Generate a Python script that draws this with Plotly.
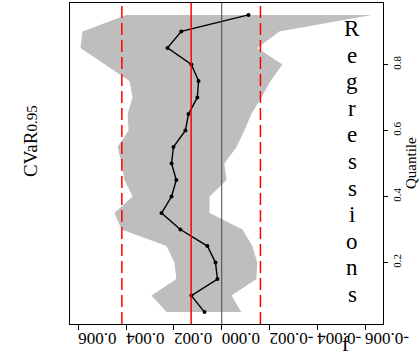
import plotly.graph_objects as go

# Data
taus = [0.05, 0.10, 0.15, 0.20, 0.25, 0.30, 0.35, 0.40, 0.45, 0.50,
        0.55, 0.60, 0.65, 0.70, 0.75, 0.80, 0.85, 0.90, 0.95]
coef = [0.00072, 0.00127, 0.00018, 0.00026, 0.00060, 0.00173, 0.00252, 0.00210, 0.00190, 0.00210,
        0.00202, 0.00152, 0.00139, 0.00102, 0.00097, 0.00127, 0.00227, 0.00169, -0.00112]
upper = [0.00231, 0.00294, 0.00190, 0.00198, 0.00231, 0.00419, 0.00449, 0.00373, 0.00407, 0.00419,
         0.00436, 0.00390, 0.00394, 0.00373, 0.00386, 0.00491, 0.00591, 0.00583, 0.00399]
lower = [-0.00082, -0.00041, -0.00145, -0.00149, -0.00128, -0.00087, 0.00051, 0.00051, -0.00020, -0.00011,
         -0.00062, -0.00095, -0.00124, -0.00166, -0.00204, -0.00254, -0.00149, -0.00241, -0.00627]
ols_est = 0.00128
ols_lo = -0.00162
ols_hi = 0.00418
xticks = [-0.006, -0.004, -0.002, 0.000, 0.002, 0.004, 0.006]
xticklabels = ["-0.006", "-0.004", "-0.002", "0.000", "0.002", "0.004", "0.006"]
yticks = [0.2, 0.4, 0.6, 0.8]
yticklabels = ["0.2", "0.4", "0.6", "0.8"]
title_left = "CVaR<span style='font-size:15px'>0.95</span>"
title_letters = list("Regressions")
axis_label = "Quantile"

W, H = 419, 360
L, R, T, B = 70, 36, 3, 36
pw, ph = W - L - R, H - T - B

def px(x):
    return (x - L) / pw

def py(y):
    return (H - B - y) / ph

SERIF = "Liberation Serif, Times New Roman, serif"

fig = go.Figure()
fig.add_trace(go.Scatter(
    x=upper + lower[::-1], y=taus + taus[::-1],
    fill="toself", fillcolor="#BEBEBE", line=dict(width=0),
    mode="lines", hoverinfo="skip", showlegend=False))
fig.add_trace(go.Scatter(
    x=coef, y=taus, mode="lines+markers",
    line=dict(color="black", width=1.4),
    marker=dict(color="black", size=4), showlegend=False))

shapes = [
    dict(type="line", xref="x", yref="paper", x0=0, x1=0, y0=0, y1=1,
         line=dict(color="#444444", width=1)),
    dict(type="line", xref="x", yref="paper", x0=ols_est, x1=ols_est, y0=0, y1=1,
         line=dict(color="red", width=1.5)),
    dict(type="line", xref="x", yref="paper", x0=ols_lo, x1=ols_lo, y0=0, y1=1,
         line=dict(color="red", width=1.5, dash="12px,5px")),
    dict(type="line", xref="x", yref="paper", x0=ols_hi, x1=ols_hi, y0=0, y1=1,
         line=dict(color="red", width=1.5, dash="12px,5px")),
]

annotations = []
for k, ch in enumerate(title_letters):
    annotations.append(dict(
        text=ch, xref="paper", yref="paper", x=px(352), y=py(28.5 + 26.6 * k),
        xanchor="center", yanchor="middle", showarrow=False,
        font=dict(family=SERIF, size=23, color="black")))
annotations.append(dict(
    text="f", xref="paper", yref="paper", x=px(345), y=py(344),
    xanchor="center", yanchor="middle", showarrow=False,
    font=dict(family=SERIF, size=21, color="black")))
annotations.append(dict(
    text=title_left, xref="paper", yref="paper", x=px(30), y=py(141),
    xanchor="center", yanchor="middle", showarrow=False, textangle=-90,
    font=dict(family=SERIF, size=19, color="black")))
annotations.append(dict(
    text=axis_label, xref="paper", yref="paper", x=px(411), y=py(163),
    xanchor="center", yanchor="middle", showarrow=False, textangle=-90,
    font=dict(family=SERIF, size=15, color="black")))

fig.update_layout(
    width=W, height=H,
    margin=dict(l=L, r=R, t=T, b=B, pad=0),
    paper_bgcolor="white", plot_bgcolor="white",
    shapes=shapes, annotations=annotations,
    showlegend=False,
    xaxis=dict(range=[0.00635, -0.00675], tickvals=xticks, ticktext=xticklabels,
               tickangle=180, ticks="outside", ticklen=5, tickcolor="black",
               showline=True, linecolor="black", linewidth=1, mirror=True,
               showgrid=False, zeroline=False,
               tickfont=dict(family=SERIF, size=17, color="black")),
    yaxis=dict(range=[0.014, 0.986], side="right", tickvals=yticks, ticktext=yticklabels,
               tickangle=-90, ticks="outside", ticklen=4, tickcolor="black",
               showline=True, linecolor="black", linewidth=1, mirror=True,
               showgrid=False, zeroline=False,
               tickfont=dict(family=SERIF, size=11, color="black")),
)

fig.write_html("out.html")
